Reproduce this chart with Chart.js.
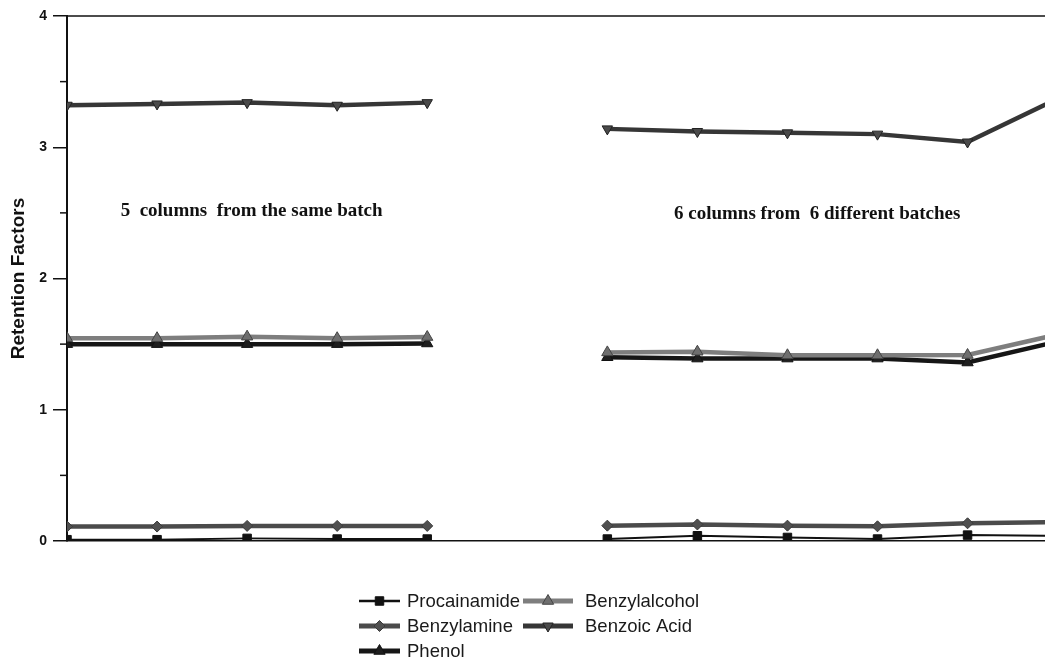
<!DOCTYPE html>
<html>
<head>
<meta charset="utf-8">
<script src="https://cdn.jsdelivr.net/npm/chart.js@4/dist/chart.umd.min.js"></script>
<style>
  html, body { margin: 0; padding: 0; background: #ffffff; overflow: hidden; }
  #wrap { width: 1045px; height: 660px; }
</style>
</head>
<body>
<div id="wrap"><canvas id="chart" width="1045" height="660"></canvas></div>
<script>
// Column slots on the x axis: five columns of one batch, an empty slot,
// then six columns taken from six different batches.
const columns = ['1', '2', '3', '4', '5', '', '1', '2', '3', '4', '5', '6'];

// Retention factors per analyte (null = empty slot between the two groups)
const procainamide  = [0.01, 0.01, 0.02, 0.015, 0.015, null, 0.015, 0.04, 0.027, 0.015, 0.045, 0.04];
const benzylamine   = [0.11, 0.11, 0.115, 0.115, 0.115, null, 0.117, 0.126, 0.117, 0.112, 0.135, 0.145];
const phenol        = [1.50, 1.50, 1.50, 1.50, 1.505, null, 1.40, 1.39, 1.39, 1.39, 1.36, 1.52];
const benzylalcohol = [1.545, 1.545, 1.557, 1.545, 1.554, null, 1.437, 1.442, 1.415, 1.415, 1.417, 1.573];
const benzoicAcid   = [3.32, 3.33, 3.34, 3.32, 3.34, null, 3.14, 3.12, 3.11, 3.10, 3.04, 3.37];

const seriesNames = ['Procainamide', 'Benzylamine', 'Phenol', 'Benzylalcohol', 'Benzoic Acid'];
const yTicks = [0, 1, 2, 3, 4];
const groupLabels = ['5  columns  from the same batch', '6 columns from  6 different batches'];

const toPoints = arr => arr.map((v, i) => ({ x: i, y: v }));

const seriesStyle = [
  { color: '#111111', width: 2,   style: 'rect',     radius: 6,   rotation: 0,   fill: '#111111', edge: '#111111', order: 0 },
  { color: '#4b4b4b', width: 4.5, style: 'rectRot',  radius: 5.5, rotation: 0,   fill: '#505050', edge: '#3a3a3a', order: 0 },
  { color: '#161616', width: 4.5, style: 'triangle', radius: 6.5, rotation: 0,   fill: '#1e1e1e', edge: '#111111', order: 1 },
  { color: '#7e7e7e', width: 4.5, style: 'triangle', radius: 6.5, rotation: 0,   fill: '#6e6e6e', edge: '#444444', order: 0 },
  { color: '#363636', width: 4.5, style: 'triangle', radius: 6,   rotation: 180, fill: '#4a4a4a', edge: '#222222', order: 0 }
];
const seriesValues = [procainamide, benzylamine, phenol, benzylalcohol, benzoicAcid];

const datasets = seriesNames.map((name, i) => {
  const s = seriesStyle[i];
  return {
    label: name,
    data: toPoints(seriesValues[i]),
    borderColor: s.color,
    borderWidth: s.width,
    backgroundColor: s.fill,
    pointStyle: s.style,
    pointRotation: s.rotation,
    pointRadius: s.radius,
    pointBackgroundColor: s.fill,
    pointBorderColor: s.edge,
    pointBorderWidth: 1,
    tension: 0,
    spanGaps: false,
    order: s.order,
    clip: { left: 0, top: 8, right: 0, bottom: 0 }
  };
});

// Frame line along the top, and short minor ticks at every half unit
const framePlugin = {
  id: 'frame',
  beforeDraw(chart) {
    const { ctx } = chart;
    ctx.save();
    ctx.fillStyle = '#ffffff';
    ctx.fillRect(0, 0, chart.width, chart.height);
    ctx.restore();
  },
  afterDraw(chart) {
    const { ctx, chartArea } = chart;
    const y = chart.scales.y;
    ctx.save();
    ctx.strokeStyle = '#111111';
    ctx.lineWidth = 1.5;
    ctx.beginPath();
    ctx.moveTo(chartArea.left, chartArea.top);
    ctx.lineTo(chartArea.right, chartArea.top);
    ctx.stroke();
    for (let v = 0.5; v < 4; v += 1) {
      const py = y.getPixelForValue(v);
      ctx.beginPath();
      ctx.moveTo(chartArea.left - 7, py);
      ctx.lineTo(chartArea.left, py);
      ctx.stroke();
    }
    ctx.restore();
  }
};

// Group captions placed in data units
const captionSpots = [
  { x: 2.05, y: 2.476 },
  { x: 8.33, y: 2.453 }
];
const captionPlugin = {
  id: 'captions',
  afterDatasetsDraw(chart) {
    const { ctx } = chart;
    const xs = chart.scales.x, ys = chart.scales.y;
    ctx.save();
    ctx.fillStyle = '#111111';
    ctx.font = 'bold 19px "Liberation Serif", "Times New Roman", serif';
    ctx.textAlign = 'center';
    ctx.textBaseline = 'alphabetic';
    groupLabels.forEach((t, i) => {
      ctx.fillText(t, xs.getPixelForValue(captionSpots[i].x), ys.getPixelForValue(captionSpots[i].y));
    });
    ctx.restore();
  }
};

// Legend in two columns, filled column by column (three rows)
const legendLayout = {
  rows: [601, 626, 651],
  cols: [ { x0: 359, x1: 400, tx: 407 }, { x0: 523, x1: 573, tx: 585 } ]
};
function drawMarker(ctx, st, x, y) {
  const h = Chart.helpers;
  ctx.fillStyle = st.fill;
  ctx.strokeStyle = st.edge;
  ctx.lineWidth = 1;
  if (h && h.drawPoint) {
    h.drawPoint(ctx, { pointStyle: st.style, rotation: st.rotation, radius: st.radius, borderWidth: 1 }, x, y);
  } else {
    ctx.fillRect(x - 4, y - 4, 8, 8);
  }
}
const legendPlugin = {
  id: 'columnLegend',
  afterDraw(chart) {
    const { ctx } = chart;
    const nRows = legendLayout.rows.length;
    ctx.save();
    ctx.font = '18.5px "Liberation Sans", Arial, sans-serif';
    ctx.textBaseline = 'middle';
    ctx.textAlign = 'left';
    chart.data.datasets.forEach((ds, i) => {
      const col = legendLayout.cols[Math.floor(i / nRows)];
      const y = legendLayout.rows[i % nRows];
      const st = seriesStyle[i];
      ctx.strokeStyle = st.color;
      ctx.lineWidth = st.width + 0.5;
      ctx.beginPath();
      ctx.moveTo(col.x0, y);
      ctx.lineTo(col.x1, y);
      ctx.stroke();
      drawMarker(ctx, st, (col.x0 + col.x1) / 2, y);
      ctx.fillStyle = '#1a1a1a';
      ctx.fillText(ds.label, col.tx, y + 1);
    });
    ctx.restore();
  }
};

new Chart(document.getElementById('chart'), {
  type: 'line',
  data: { labels: columns, datasets },
  plugins: [framePlugin, captionPlugin, legendPlugin],
  options: {
    responsive: false,
    animation: false,
    devicePixelRatio: 1,
    layout: { autoPadding: false, padding: { left: 0, right: 0, top: 16, bottom: 119 } },
    plugins: { legend: { display: false }, tooltip: { enabled: false } },
    scales: {
      x: {
        type: 'linear',
        min: 0,
        max: 10.86,
        ticks: { display: false },
        grid: { display: false, drawTicks: false },
        border: { display: true, color: '#111111', width: 1.5 }
      },
      y: {
        min: 0,
        max: 4,
        afterFit(scale) { scale.width = 67; },
        afterBuildTicks(scale) { scale.ticks = yTicks.map(v => ({ value: v })); },
        ticks: {
          padding: 6,
          color: '#111111',
          font: { family: '"Liberation Sans", Arial, sans-serif', weight: 'bold', size: 14 }
        },
        grid: { drawOnChartArea: false, tickLength: 14, color: '#111111', lineWidth: 1.5 },
        border: { display: true, color: '#111111', width: 2 },
        title: {
          display: true,
          text: 'Retention Factors',
          color: '#111111',
          font: { family: '"Liberation Sans", Arial, sans-serif', weight: 'bold', size: 19 },
          padding: { top: 7, bottom: 0 }
        }
      }
    }
  }
});
</script>
</body>
</html>
